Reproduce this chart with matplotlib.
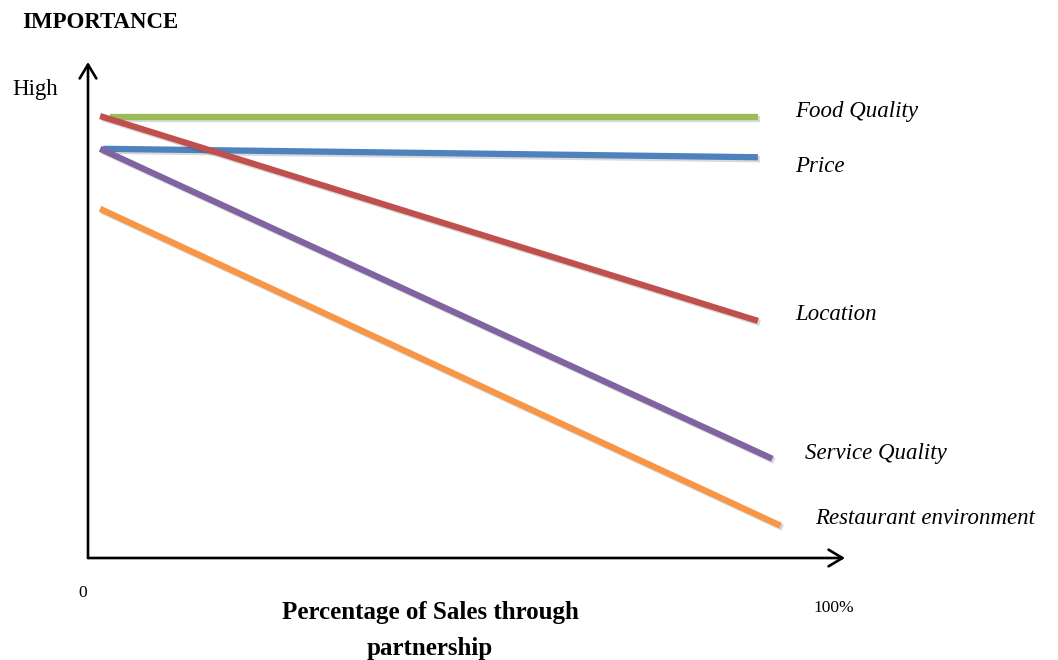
import matplotlib
matplotlib.use('Agg')
import matplotlib.pyplot as plt
import matplotlib.patheffects as pe

plt.rcParams['font.family'] = ['Liberation Serif', 'DejaVu Serif']

W, H = 1058, 660

# importance lines: start / end points on a 0-100 scale (x: share of sales, y: importance)
names = ['Food Quality', 'Price', 'Location', 'Service Quality', 'Restaurant environment']
x_start = [2.9, 2.0, 1.6, 1.6, 1.6]
x_end = [88.5, 88.5, 88.5, 90.4, 91.5]
y_start = [88.9, 82.5, 89.1, 82.5, 70.4]
y_end = [88.9, 80.8, 47.8, 20.0, 6.5]
colors = ['#9BBB59', '#4F81BD', '#C0504D', '#8064A2', '#F79646']

# label anchor (pixels) next to each line end
lab_px = [(795, 111), (795, 167), (795, 315), (805, 453), (815, 518)]

fig = plt.figure(figsize=(W / 100, H / 100), dpi=100)
ax = fig.add_axes([88 / W, (H - 558) / H, (845 - 88) / W, (558 - 62) / H])
ax.set_xlim(0, 100)
ax.set_ylim(0, 100)
ax.axis('off')

# draw order: keep red above blue like the original
order = [0, 1, 3, 4, 2]
for i in order:
    ax.plot([x_start[i], x_end[i]], [y_start[i], y_end[i]], color=colors[i], lw=4.5,
            solid_capstyle='butt', clip_on=False,
            path_effects=[pe.SimpleLineShadow(offset=(1.5, -1.5), alpha=0.15, shadow_color='black'),
                          pe.Normal()])

for i, name in enumerate(names):
    px, py = lab_px[i]
    fig.text(px / W, 1 - py / H, name, fontsize=16.5, style='italic', va='center', ha='left')

# axis arrows
arrow = dict(arrowstyle='->,head_length=1.0,head_width=0.6', lw=1.9, color='black',
             shrinkA=0, shrinkB=0)
ax.annotate('', xy=(0, 1), xytext=(0, 0), xycoords='axes fraction', arrowprops=arrow)
ax.annotate('', xy=(1, 0), xytext=(0, 0), xycoords='axes fraction', arrowprops=arrow)

fig.text(22 / W, 1 - 23 / H, 'IMPORTANCE', fontsize=16.5, fontweight='bold', va='center')
fig.text(12 / W, 1 - 89 / H, 'High', fontsize=16.5, va='center')
fig.text(78 / W, 1 - 593 / H, '0', fontsize=12.5, va='center')
fig.text(834 / W, 1 - 608 / H, '100%', fontsize=12.5, va='center', ha='center')
fig.text(430 / W, 1 - 612 / H, 'Percentage of Sales through', fontsize=18,
         fontweight='bold', ha='center', va='center')
fig.text(430 / W, 1 - 649 / H, 'partnership', fontsize=18,
         fontweight='bold', ha='center', va='center')

fig.savefig('out.png', dpi=100)
